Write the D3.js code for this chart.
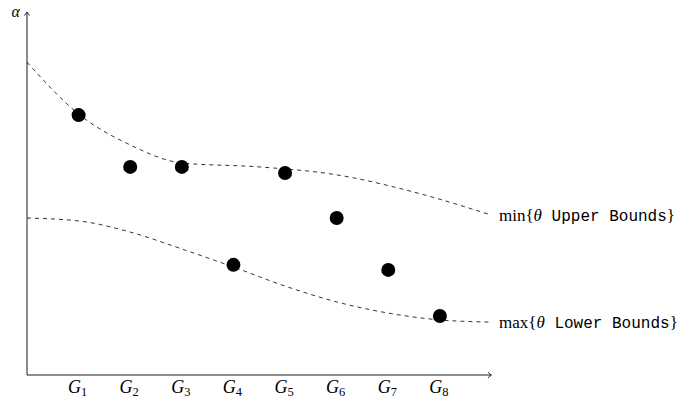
<!DOCTYPE html>
<html>
<head>
<meta charset="utf-8">
<script src="https://cdn.jsdelivr.net/npm/d3@7"></script>
<style>
body { margin: 0; background: #fff; }
svg { display: block; }
.lab { font-family: "Liberation Serif", "DejaVu Serif", serif; font-size: 17px; }
.mono { font-family: "Liberation Mono", "DejaVu Sans Mono", monospace; font-size: 16px; }
</style>
</head>
<body>
<div id="viz"></div>
<script>
// groups on the x axis
var groups = ["1", "2", "3", "4", "5", "6", "7", "8"];
// alpha values of each group (dots)
var alphaValues = [7.22, 5.78, 5.78, 3.06, 5.61, 4.36, 2.92, 1.64];
// min of upper bounds curve (x position in group units, value)
var upperX = [0, 1, 2, 3, 4.5, 6, 7.5, 9];
var upperY = [8.69, 7.25, 6.39, 5.89, 5.78, 5.56, 5.08, 4.44];
// max of lower bounds curve
var lowerX = [0, 1, 2, 3, 4, 5, 6, 7, 8, 9];
var lowerY = [4.36, 4.28, 3.97, 3.5, 3.0, 2.47, 2.03, 1.72, 1.53, 1.47];

var width = 686, height = 398;

var svg = d3.select("#viz").append("svg")
  .attr("width", width)
  .attr("height", height);

// scales
var xScale = d3.scaleLinear().domain([0, 9]).range([27, 491.5]);
var yScale = d3.scaleLinear().domain([0, 10]).range([375, 15]);

// axes -----
var x0 = xScale(0), y0 = yScale(0);
svg.append("line")
  .attr("x1", x0).attr("y1", y0).attr("x2", xScale(9) - 0.5).attr("y2", y0)
  .attr("stroke", "black").attr("stroke-width", 0.9);
svg.append("line")
  .attr("x1", x0).attr("y1", y0).attr("x2", x0).attr("y2", 12)
  .attr("stroke", "black").attr("stroke-width", 0.9);

// arrow heads
var xe = xScale(9), ye = 12;
svg.append("path")
  .attr("d", "M" + (xe - 3.5) + "," + (y0 - 3) + " Q" + (xe - 1.5) + "," + (y0 - 0.5) + " " + xe + "," + y0 +
             " Q" + (xe - 1.5) + "," + (y0 + 0.5) + " " + (xe - 3.5) + "," + (y0 + 3))
  .attr("fill", "none").attr("stroke", "black").attr("stroke-width", 0.8);
svg.append("path")
  .attr("d", "M" + (x0 - 3) + "," + (ye + 3.5) + " Q" + (x0 - 0.5) + "," + (ye + 1.5) + " " + x0 + "," + ye +
             " Q" + (x0 + 0.5) + "," + (ye + 1.5) + " " + (x0 + 3) + "," + (ye + 3.5))
  .attr("fill", "none").attr("stroke", "black").attr("stroke-width", 0.8);

// alpha label
svg.append("text")
  .attr("class", "lab")
  .attr("x", 20).attr("y", 17)
  .attr("text-anchor", "end")
  .style("font-style", "italic")
  .style("font-size", "16px")
  .text("α");

// group labels
var gl = svg.append("g").selectAll("text")
  .data(groups)
  .enter()
  .append("text")
  .attr("class", "lab")
  .attr("x", function(d, i) { return xScale(i + 1) - 1; })
  .attr("y", y0 + 18)
  .attr("text-anchor", "middle");
gl.append("tspan").style("font-style", "italic").style("font-size", "18px").text("G");
gl.append("tspan").attr("dy", 2.5).style("font-size", "12.5px").text(function(d) { return d; });

// dashed curves
var line = d3.line()
  .x(function(d) { return xScale(d[0]); })
  .y(function(d) { return yScale(d[1]); })
  .curve(d3.curveMonotoneX);

var upper = upperX.map(function(d, i) { return [d, upperY[i]]; });
var lower = lowerX.map(function(d, i) { return [d, lowerY[i]]; });

svg.append("path")
  .datum(upper)
  .attr("d", line)
  .attr("fill", "none")
  .attr("stroke", "black")
  .attr("stroke-width", 0.8)
  .attr("stroke-dasharray", "4,4");

svg.append("path")
  .datum(lower)
  .attr("d", line)
  .attr("fill", "none")
  .attr("stroke", "black")
  .attr("stroke-width", 0.8)
  .attr("stroke-dasharray", "4,4");

// dots
svg.append("g").selectAll("circle")
  .data(alphaValues)
  .enter()
  .append("circle")
  .attr("cx", function(d, i) { return xScale(i + 1); })
  .attr("cy", function(d) { return yScale(d); })
  .attr("r", 7)
  .attr("fill", "black");

// curve labels
function curveLabel(op, word, v) {
  var t = svg.append("text")
    .attr("class", "lab")
    .attr("x", 499)
    .attr("y", yScale(v) + 6);
  t.append("tspan").text(op + "{");
  t.append("tspan").style("font-style", "italic").text("θ");
  t.append("tspan").attr("class", "mono").text(" " + word + " Bounds");
  t.append("tspan").text("}");
}
curveLabel("min", "Upper", upperY[upperY.length - 1]);
curveLabel("max", "Lower", lowerY[lowerY.length - 1]);
</script>
</body>
</html>
